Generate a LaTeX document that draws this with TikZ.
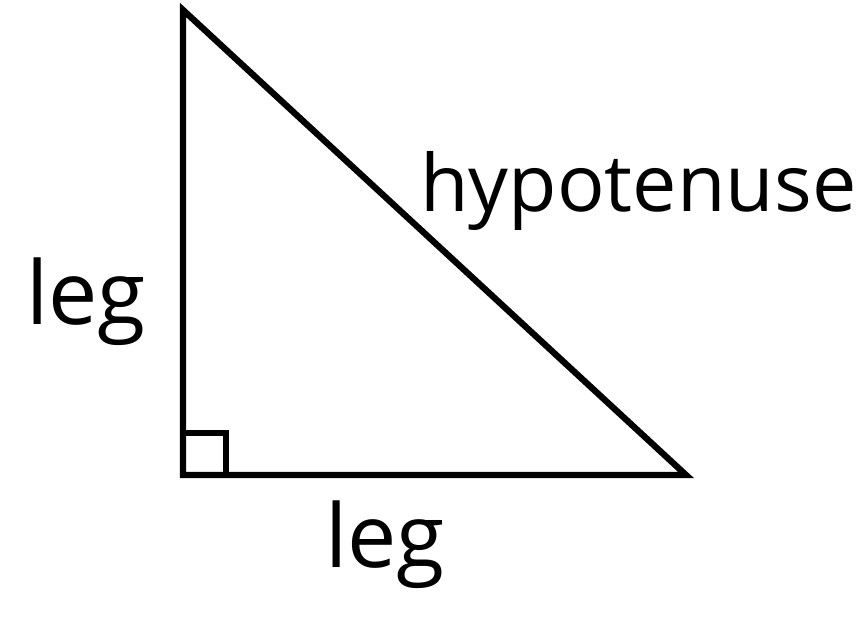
\documentclass[tikz,border=0pt]{standalone}
\usepackage{fontspec}
\setmainfont{Open Sans}
\usetikzlibrary{positioning}

\begin{document}
\begin{tikzpicture}[x=0.02cm,y=-0.02cm,
  side/.style={line width=3.6pt,line join=miter},
  rt/.style={line width=3.2pt},
  lbl/.style={font=\fontsize{50}{54}\selectfont,inner sep=0pt}]
\useasboundingbox (0,0) rectangle (860,617);

\coordinate (top) at (183,10);
\coordinate (corner) at (183,475);
\coordinate (right) at (686,475);
\draw[side] (top) -- (corner) -- (right) -- cycle;
\draw[rt] (183,433) -| (226,475);

\node[lbl] (legL) at (86,302) {leg};
\node[lbl] (legB) at (385,545) {leg};
\node[lbl,font=\fontsize{45}{50}\selectfont,anchor=base west] (hyp) at (420,212) {hypotenuse};
\end{tikzpicture}
\end{document}
